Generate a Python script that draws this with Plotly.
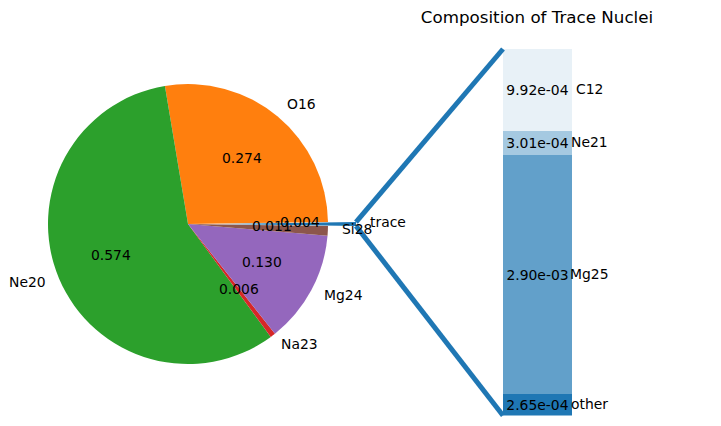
import numpy as np
import plotly.graph_objects as go

W, H = 721, 426

# main pie: the "trace" slice is the sum of the trace nuclei below
pie_labels = ["trace", "O16", "Ne20", "Na23", "Mg24", "Si28"]
pie_major = [0.274, 0.574, 0.006, 0.130, 0.011]
pie_colors = ["#1f77b4", "#ff7f0e", "#2ca02c", "#d62728", "#9467bd", "#8c564b"]

# stacked bar of the trace nuclei (bottom to top)
trace_labels = ["other", "Mg25", "Ne21", "C12"]
trace_values = [2.65e-04, 2.90e-03, 3.01e-04, 9.92e-04]
trace_alphas = [1.0, 0.7, 0.4, 0.1]

pie_values = [sum(trace_values)] + pie_major
total = sum(pie_values)
frac = np.array(pie_values) / total

# pie geometry in pixels
cx, cy, r, pull = 188, 224, 140, 0.2
half = r * (1 + pull)
FONT = dict(family="DejaVu Sans", size=13.9, color="black")

fig = go.Figure()
fig.add_trace(go.Pie(
    labels=pie_labels, values=pie_values, sort=False,
    direction="counterclockwise",
    rotation=90 - frac[0] * 180,
    pull=[pull] + [0] * len(pie_major),
    marker=dict(colors=pie_colors, line=dict(width=0)),
    textinfo="none", hoverinfo="label+value", showlegend=False,
    domain=dict(x=[(cx - half) / W, (cx + half) / W],
                y=[(H - cy - half) / H, (H - cy + half) / H]),
))

# matplotlib-style labels (label at 1.1 r, fraction at 0.6 r)
ends = np.cumsum(frac) * 360 - frac[0] * 180
starts = ends - frac * 360
annotations = []
for i, lab in enumerate(pie_labels):
    mid = np.deg2rad((starts[i] + ends[i]) / 2)
    ox = cx + (pull * r * np.cos(mid) if i == 0 else 0)
    oy = cy - (pull * r * np.sin(mid) if i == 0 else 0)
    lx, ly = ox + 1.1 * r * np.cos(mid), oy - 1.1 * r * np.sin(mid)
    px, py = ox + 0.6 * r * np.cos(mid), oy - 0.6 * r * np.sin(mid)
    right_side = np.cos(mid) > 0
    annotations.append(dict(x=lx / W, y=1 - ly / H, xref="paper", yref="paper",
                            text=lab, showarrow=False, font=FONT, yshift=2,
                            xshift=-2 if right_side else 2,
                            xanchor="left" if right_side else "right",
                            yanchor="middle"))
    annotations.append(dict(x=px / W, y=1 - py / H, xref="paper", yref="paper",
                            text=f"{frac[i]:.3f}", showarrow=False, font=FONT,
                            yshift=2, xanchor="center", yanchor="middle"))

# stacked bar
bar_x0, bar_x1, bar_top, bar_bot = 503, 572, 49, 415.5
for lab, v, a in zip(trace_labels, trace_values, trace_alphas):
    fig.add_trace(go.Bar(
        x=[0], y=[v], width=1, name=lab, showlegend=False,
        marker=dict(color=f"rgba(31,119,180,{a})", line=dict(width=0)),
        text=[f"{v:.2e}"], textposition="inside", insidetextanchor="middle",
        textangle=0, constraintext="none", textfont=FONT,
    ))
bottoms = np.cumsum([0] + trace_values[:-1])
name_x = (bar_x0 + 1.25 * (bar_x1 - bar_x0)) / W
for lab, v, b in zip(trace_labels, trace_values, bottoms):
    annotations.append(dict(x=name_x, y=b + v / 2, xref="paper", yref="y", text=lab,
                            showarrow=False, font=FONT, xanchor="center",
                            yanchor="middle", yshift=1))

# connector lines from the pulled wedge to the bar corners
tip_x = cx + pull * r + r * np.cos(np.deg2rad(ends[0]))
tip_y_top = cy - r * np.sin(np.deg2rad(ends[0]))
tip_y_bot = cy - r * np.sin(np.deg2rad(starts[0]))
shapes = [
    dict(type="line", xref="paper", yref="paper", x0=tip_x / W, y0=1 - tip_y_top / H,
         x1=bar_x0 / W, y1=1 - bar_top / H, line=dict(color="#1f77b4", width=5)),
    dict(type="line", xref="paper", yref="paper", x0=tip_x / W, y0=1 - tip_y_bot / H,
         x1=bar_x0 / W, y1=1 - bar_bot / H, line=dict(color="#1f77b4", width=5)),
]

fig.update_layout(
    width=W, height=H, barmode="stack", bargap=0,
    margin=dict(l=0, r=0, t=0, b=0),
    paper_bgcolor="white", plot_bgcolor="white",
    font=dict(family="DejaVu Sans", color="black"),
    title=dict(text="Composition of Trace Nuclei", x=537 / W, xanchor="center",
               y=1 - 17 / H, yanchor="middle",
               font=dict(family="DejaVu Sans", size=16.7, color="black")),
    xaxis=dict(domain=[bar_x0 / W, bar_x1 / W], range=[-0.5, 0.5], visible=False),
    yaxis=dict(domain=[1 - bar_bot / H, 1 - bar_top / H], range=[0, sum(trace_values)],
               visible=False),
    annotations=annotations, shapes=shapes,
)

# drop the browser's default body margin so the figure sits at the page corner
fig.write_html("out.html", config={"displayModeBar": False},
               post_script="document.body.style.margin = '0';")
